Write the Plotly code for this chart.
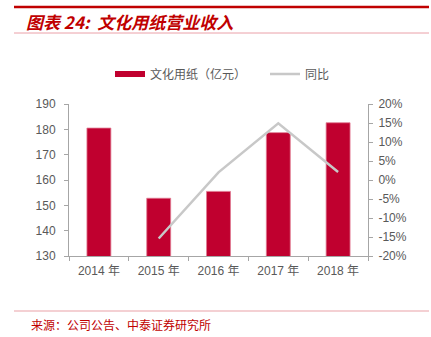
import plotly.graph_objects as go

years = ["2014 年", "2015 年", "2016 年", "2017 年", "2018 年"]
revenue = [180.5, 152.8, 155.5, 178.7, 182.6]
yoy_years = ["2015 年", "2016 年", "2017 年", "2018 年"]
yoy = [-15.4, 2.0, 14.9, 2.1]
left_ticks = [130, 140, 150, 160, 170, 180, 190]
right_ticks = [-20, -15, -10, -5, 0, 5, 10, 15, 20]
right_labels = [f"{v}%" for v in right_ticks]

W, H = 431, 337
L, R, T, B = 69, 63, 104, 81
PW, PH = W - L - R, H - T - B

def px(x):
    return (x - L) / PW

def py(y):
    return (H - B - y) / PH

RED = "#C0002F"
AX = "#a6a6a6"
TXT = "#595959"
FONT = "Liberation Sans, Noto Sans CJK SC, sans-serif"

fig = go.Figure()
fig.add_trace(go.Bar(
    x=years, y=revenue, name="文化用纸（亿元）", showlegend=False,
    marker=dict(color=RED, line=dict(color="#e07890", width=0.8)),
    yaxis="y",
))
# legend-only entry giving a wide rectangular swatch like the reference
fig.add_trace(go.Scatter(
    x=[None], y=[None], name="文化用纸（亿元）", mode="lines",
    line=dict(color=RED, width=6), yaxis="y", legend="legend",
))
fig.add_trace(go.Scatter(
    x=yoy_years, y=yoy, name="同比", mode="lines",
    line=dict(color="#c8c8c8", width=2.5),
    yaxis="y2", legend="legend2",
))

leg_common = dict(orientation="h", yanchor="middle", xanchor="left",
                  font=dict(family="Noto Sans CJK SC", size=12, color=TXT),
                  itemwidth=30, bgcolor="rgba(0,0,0,0)")

fig.update_layout(
    width=W, height=H,
    margin=dict(l=L, r=R, t=T, b=B),
    paper_bgcolor="white", plot_bgcolor="white",
    bargap=0.6,
    showlegend=True,
    font=dict(family=FONT, size=12, color=TXT),
    legend=dict(x=px(110), y=py(74), **leg_common),
    legend2=dict(x=px(265), y=py(74), **leg_common),
    xaxis=dict(type="category", showline=True, linecolor=AX, linewidth=1,
               ticks="outside", tickson="boundaries", ticklen=4, tickcolor=AX,
               showgrid=False, tickfont=dict(size=12, color=TXT), ticklabelstandoff=4),
    yaxis=dict(range=[130, 190], tickvals=left_ticks, showline=True, linecolor=AX,
               linewidth=1, ticks="outside", ticklen=4, tickcolor=AX, showgrid=False,
               zeroline=False, tickfont=dict(size=12, color=TXT), ticklabelstandoff=6),
    yaxis2=dict(range=[-20, 20], tickvals=right_ticks, ticktext=right_labels, overlaying="y",
                side="right", showline=True, linecolor=AX, linewidth=1, ticks="outside",
                ticklen=4, tickcolor=AX, showgrid=False, zeroline=False,
                tickfont=dict(size=12, color=TXT), ticklabelstandoff=3),
)

shapes = [
    dict(type="line", xref="paper", yref="paper", x0=px(14), x1=px(429), y0=py(7), y1=py(7),
         line=dict(color="#C00000", width=2.5)),
    dict(type="line", xref="paper", yref="paper", x0=px(14), x1=px(429), y0=py(33), y1=py(33),
         line=dict(color="#eaa0a8", width=1)),
    dict(type="line", xref="paper", yref="paper", x0=px(14), x1=px(429), y0=py(311), y1=py(311),
         line=dict(color="#f0c0c4", width=1.5)),
]
fig.update_layout(shapes=shapes)

fig.add_annotation(xref="paper", yref="paper", x=px(24), y=py(21), xanchor="left", yanchor="middle",
                   text="<b><i>图表 24:  文化用纸营业收入</i></b>", showarrow=False,
                   font=dict(family="Noto Sans CJK SC", size=17, color="#C00000"))
fig.add_annotation(xref="paper", yref="paper", x=px(29), y=py(324), xanchor="left", yanchor="middle",
                   text="来源：公司公告、中泰证券研究所", showarrow=False,
                   font=dict(family="Noto Sans CJK SC", size=12, color="#C00000"))

fig.write_html("out.html")
